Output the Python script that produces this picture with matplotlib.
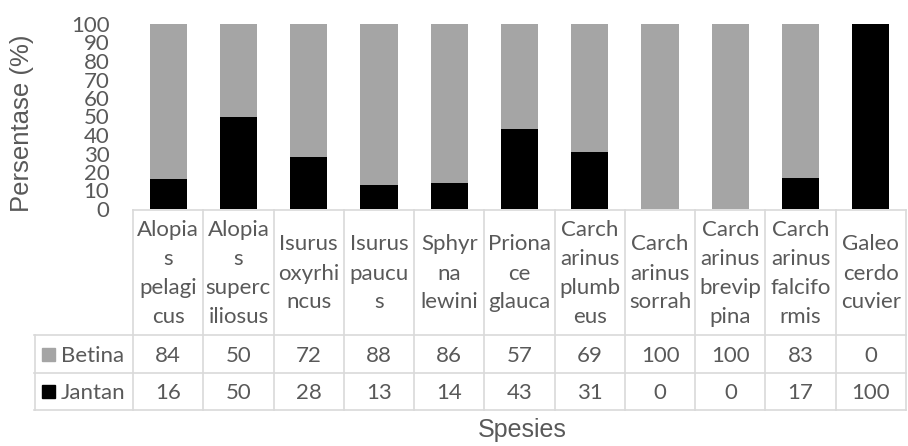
import numpy as np
import matplotlib
matplotlib.use('Agg')
import matplotlib.pyplot as plt
from matplotlib.patches import Rectangle

# data
spesies = [["Alopia", "s", "pelagi", "cus"],
           ["Alopia", "s", "superc", "iliosus"],
           ["Isurus", "oxyrhi", "ncus"],
           ["Isurus", "paucu", "s"],
           ["Sphyr", "na", "lewini"],
           ["Priona", "ce", "glauca"],
           ["Carch", "arinus", "plumb", "eus"],
           ["Carch", "arinus", "sorrah"],
           ["Carch", "arinus", "brevip", "pina"],
           ["Carch", "arinus", "falcifo", "rmis"],
           ["Galeo", "cerdo", "cuvier"]]
betina = [84, 50, 72, 88, 86, 57, 69, 100, 100, 83, 0]
jantan = [16, 50, 28, 13, 14, 43, 31, 0, 0, 17, 100]
series_names = ["Betina", "Jantan"]
series_colors = ["#A5A5A5", "#000000"]

TXT = '#595959'
GRID = '#D9D9D9'
FS = 16
W, H = 908, 446

fig = plt.figure(figsize=(W / 100, H / 100), dpi=100)

# plot area (pixels measured on reference)
L, R, T, B = 133, 906, 24, 209
ax = fig.add_axes([L / W, 1 - B / H, (R - L) / W, (B - T) / H])
n = len(betina)
x = np.arange(n)
tot = np.array(betina) + np.array(jantan)
j_pct = np.array(jantan) / tot * 100
b_pct = np.array(betina) / tot * 100
ax.bar(x, j_pct, width=0.53, color=series_colors[1])
ax.bar(x, b_pct, width=0.53, bottom=j_pct, color=series_colors[0])
ax.set_xlim(-0.5, n - 0.5)
ax.set_ylim(0, 100)
ax.set_yticks(range(0, 101, 10))
ax.tick_params(axis='y', length=0, pad=17, labelsize=FS, labelcolor=TXT)
for lb in ax.get_yticklabels():
    lb.set_family('Lato')
ax.set_xticks([])
for s in ax.spines.values():
    s.set_visible(False)

# data table below the plot
TL, TB = 34, 411
colw = (R - L) / n
tax = fig.add_axes([TL / W, 1 - TB / H, (R - TL) / W, (TB - B) / H])
x0 = -0.5 - (L - TL) / colw
tax.set_xlim(x0, n - 0.5)
tax.set_ylim(TB - B, 0)
tax.axis('off')

r_head, r_bet, r_jan = 126, 164, 202  # row bottoms, px below plot bottom
lw = 1.2
# horizontal lines
tax.plot([-0.5, n - 0.5], [1, 1], color=GRID, lw=lw, clip_on=False)
for yy in [r_head, r_bet, r_jan - 1]:
    tax.plot([x0, n - 0.5], [yy, yy], color=GRID, lw=lw, clip_on=False)
# vertical lines
for i in range(n + 1):
    tax.plot([i - 0.5, i - 0.5], [1, r_jan - 1], color=GRID, lw=lw, clip_on=False)
tax.plot([x0 + 0.01, x0 + 0.01], [r_head, r_jan - 1], color=GRID, lw=lw, clip_on=False)

line_h = 29
for i in range(n):
    m = len(spesies[i])
    for k, word in enumerate(spesies[i]):
        yb = 70.5 + (k - (m - 1) / 2) * line_h
        tax.text(i, yb, word, ha='center', va='baseline',
                 fontsize=FS, family='Lato', color=TXT)
    tax.text(i, 153, str(betina[i]), ha='center', va='baseline',
             fontsize=FS, family='Lato', color=TXT)
    tax.text(i, 190, str(jantan[i]), ha='center', va='baseline',
             fontsize=FS, family='Lato', color=TXT)

for k, yb in enumerate([153, 190]):
    tax.add_patch(Rectangle((x0 + 8 / colw, yb - 14), 13 / colw, 13,
                            color=series_colors[k], clip_on=False))
    tax.text(x0 + 27 / colw, yb, series_names[k], ha='left', va='baseline',
             fontsize=FS, family='Lato', color=TXT)

fig.text(522 / W, 1 - 430 / H, "Spesies", ha='center', va='center',
         fontsize=18, family='Liberation Sans', color=TXT)
fig.text(22 / W, 1 - 123 / H, "Persentase (%)", ha='center', va='center',
         rotation=90, fontsize=18.5, family='Liberation Sans', color=TXT)

fig.savefig('out.png', dpi=100)
